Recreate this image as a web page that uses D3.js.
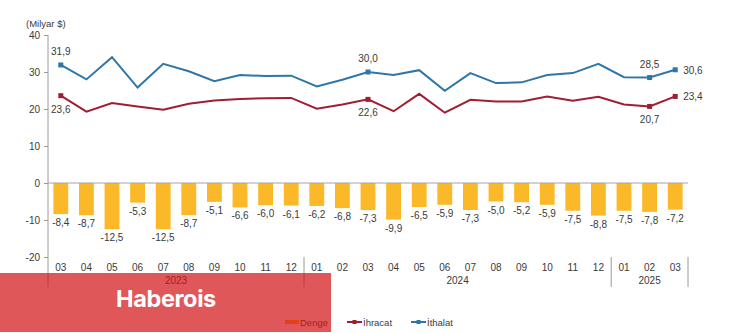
<!DOCTYPE html>
<html><head><meta charset="utf-8">
<script src="https://cdn.jsdelivr.net/npm/d3@7"></script>
<style>
html,body{margin:0;padding:0;background:#fff;}
svg{display:block;font-family:"Liberation Sans",Arial,sans-serif;}
</style></head>
<body>
<svg id="chart" width="730" height="333"></svg>
<script>
const months = ["03","04","05","06","07","08","09","10","11","12","01","02","03","04","05","06","07","08","09","10","11","12","01","02","03"];
const yearLabels = ["2023","2024","2025"];
const yearStart = [0, 10, 22];
const yearEnd = [9, 21, 24];
const imports = [31.9,28.0,34.0,25.8,32.2,30.2,27.5,29.2,28.9,29.0,26.1,27.9,30.0,29.2,30.5,24.9,29.7,27.0,27.2,29.2,29.7,32.2,28.6,28.5,30.6];
const exports = [23.6,19.3,21.6,20.7,19.8,21.4,22.3,22.7,22.9,23.0,20.1,21.2,22.6,19.4,24.1,19.0,22.5,22.0,22.0,23.4,22.2,23.3,21.2,20.7,23.4];
const balance = [-8.4,-8.7,-12.5,-5.3,-12.5,-8.7,-5.1,-6.6,-6.0,-6.1,-6.2,-6.8,-7.3,-9.9,-6.5,-5.9,-7.3,-5.0,-5.2,-5.9,-7.5,-8.8,-7.5,-7.8,-7.2];
const labeledIdx = [0, 12, 23, 24];
const yTicks = [-20,-10,0,10,20,30,40];
const unitLabel = "(Milyar $)";
const seriesNames = ["Denge","İhracat","İthalat"];
const colBar = "#fbb829", colExp = "#a11d31", colImp = "#2f76a8", txt = "#3a3a3a";

const svg = d3.select("#chart");
const x = d3.scaleBand().domain(d3.range(months.length)).range([48,688]).paddingInner(0.42).paddingOuter(0.21);
const cx = i => x(i) + x.bandwidth()/2;
const y = d3.scaleLinear().domain([-20,40]).range([257,35]);
const fmt = v => v.toFixed(1).replace(".", ",");

// y axis
const yAxis = d3.axisLeft(y).tickValues(yTicks).tickSize(4).tickPadding(4).tickFormat(d => String(d));
const ga = svg.append("g").attr("transform","translate(48,0)").call(yAxis);
ga.select(".domain").remove();
ga.selectAll(".tick line").attr("stroke","#9a9a9a");
ga.selectAll(".tick text").attr("fill",txt).attr("font-size",10).attr("font-family","Liberation Sans, Arial, sans-serif");
svg.append("line").attr("x1",48).attr("x2",48).attr("y1",y(40)).attr("y2",287).attr("stroke","#9a9a9a");
svg.append("text").attr("x",26).attr("y",27).attr("font-size",9.5).attr("fill",txt).text(unitLabel);

// bars
svg.append("g").selectAll("rect").data(balance).join("rect")
  .attr("x",(d,i)=>x(i)).attr("width",x.bandwidth())
  .attr("y",y(0)).attr("height",d=>y(d)-y(0)).attr("fill",colBar);
svg.append("line").attr("x1",48).attr("x2",688).attr("y1",y(0)).attr("y2",y(0)).attr("stroke","#a6a6a6");
svg.append("g").selectAll("text").data(balance).join("text")
  .attr("x",(d,i)=>cx(i)).attr("y",d=>y(d)+12)
  .attr("text-anchor","middle").attr("font-size",10).attr("fill",txt).text(d=>fmt(d));

// lines
const lineGen = d3.line().x((d,i)=>cx(i)).y(d=>y(d));
svg.append("path").attr("d",lineGen(imports)).attr("fill","none").attr("stroke",colImp).attr("stroke-width",2);
svg.append("path").attr("d",lineGen(exports)).attr("fill","none").attr("stroke",colExp).attr("stroke-width",2);
labeledIdx.forEach(i=>{
  [[imports,colImp],[exports,colExp]].forEach(([arr,c])=>{
    svg.append("rect").attr("x",cx(i)-2.5).attr("y",y(arr[i])-2.5).attr("width",5).attr("height",5).attr("fill",c);
  });
  const last = i === months.length-1;
  if (last) {
    svg.append("text").attr("x",cx(i)+8).attr("y",y(imports[i])+4).attr("font-size",10).attr("fill",txt).text(fmt(imports[i]));
    svg.append("text").attr("x",cx(i)+8).attr("y",y(exports[i])+4).attr("font-size",10).attr("fill",txt).text(fmt(exports[i]));
  } else {
    svg.append("text").attr("x",cx(i)).attr("y",y(imports[i])-10).attr("text-anchor","middle").attr("font-size",10).attr("fill",txt).text(fmt(imports[i]));
    svg.append("text").attr("x",cx(i)).attr("y",y(exports[i])+17).attr("text-anchor","middle").attr("font-size",10).attr("fill",txt).text(fmt(exports[i]));
  }
});

// x labels
svg.append("g").selectAll("text").data(months).join("text")
  .attr("x",(d,i)=>cx(i)).attr("y",271).attr("text-anchor","middle").attr("font-size",10).attr("fill",txt).text(d=>d);
const step = x.step();
yearLabels.forEach((yl,k)=>{
  const x0 = 48 + step*yearStart[k], x1 = 48 + step*(yearEnd[k]+1);
  svg.append("text").attr("x",(x0+x1)/2).attr("y",284).attr("text-anchor","middle").attr("font-size",10).attr("fill",txt).text(yl);
  svg.append("line").attr("x1",x1).attr("x2",x1).attr("y1",257).attr("y2",287).attr("stroke","#9a9a9a");
});

// legend
const lg = svg.append("g").attr("font-size",9.5).attr("fill",txt);
lg.append("rect").attr("x",285).attr("y",320).attr("width",14).attr("height",4).attr("fill",colBar);
lg.append("text").attr("x",300).attr("y",325.5).text(seriesNames[0]);
lg.append("line").attr("x1",347).attr("x2",362).attr("y1",322).attr("y2",322).attr("stroke",colExp).attr("stroke-width",2);
lg.append("rect").attr("x",352.5).attr("y",320).attr("width",4).attr("height",4).attr("fill",colExp);
lg.append("text").attr("x",363).attr("y",325.5).text(seriesNames[1]);
lg.append("line").attr("x1",411).attr("x2",426).attr("y1",322).attr("y2",322).attr("stroke",colImp).attr("stroke-width",2);
lg.append("rect").attr("x",416.5).attr("y",320).attr("width",4).attr("height",4).attr("fill",colImp);
lg.append("text").attr("x",427).attr("y",325.5).text(seriesNames[2]);

// watermark banner
svg.append("rect").attr("x",0).attr("y",273).attr("width",331).attr("height",59).attr("fill","rgb(211,16,19)").attr("opacity",0.7);
svg.append("text").attr("x",166).attr("y",307).attr("text-anchor","middle").attr("font-family","Inter, 'Open Sans', sans-serif")
  .attr("font-weight",700).attr("font-size",23.5).attr("letter-spacing",-0.4).attr("fill","#fff").text("Haberois");
</script>
</body></html>
